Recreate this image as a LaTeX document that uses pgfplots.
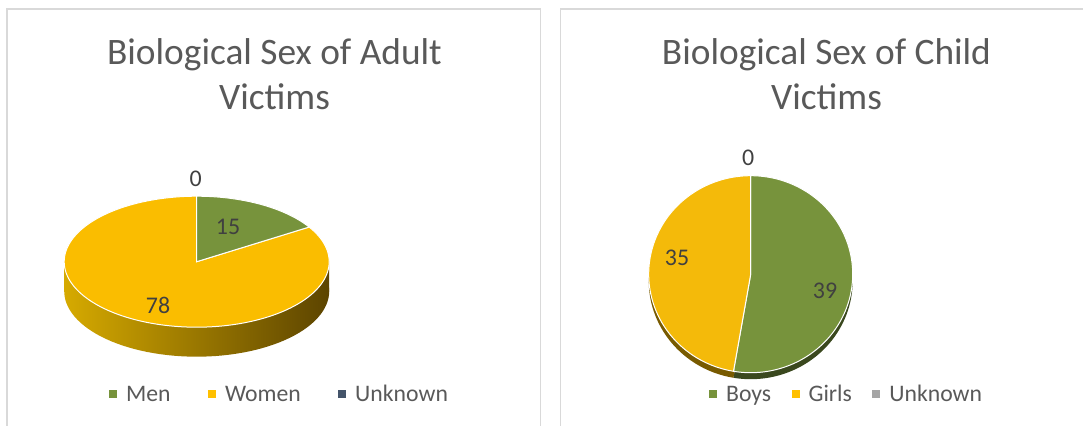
\documentclass[border=0pt]{standalone}
\usepackage{pgfplots}
\pgfplotsset{compat=1.18}
\usepackage{fontspec}
\setmainfont{Carlito}
\definecolor{cgreen}{RGB}{119,147,60}
\definecolor{cgold}{RGB}{250,189,0}
\definecolor{cgirl}{RGB}{244,186,10}
\definecolor{cnavy}{RGB}{68,84,106}
\definecolor{cgrey}{RGB}{165,165,165}
\definecolor{legendgold}{RGB}{255,192,0}
\definecolor{sideL}{RGB}{214,170,0}
\definecolor{sideM}{RGB}{150,116,0}
\definecolor{sideR}{RGB}{92,68,0}
\definecolor{dgreen}{RGB}{58,72,30}
\definecolor{dgold}{RGB}{120,90,0}
\definecolor{titlegrey}{RGB}{89,89,89}
\definecolor{labelgrey}{RGB}{64,64,64}
\definecolor{border}{RGB}{217,217,217}

% data
\def\menV{15}\def\womenV{78}\def\unkA{0}
\def\boysV{39}\def\girlsV{35}\def\unkC{0}
\pgfmathsetmacro\totA{\menV+\womenV+\unkA}
\pgfmathsetmacro\aMen{90-360*(\menV/\totA)}
\pgfmathsetmacro\aWomen{\aMen-360*(\womenV/\totA)}
\pgfmathsetmacro\totC{\boysV+\girlsV+\unkC}
\pgfmathsetmacro\aBoys{90-360*(\boysV/\totC)}
\pgfmathsetmacro\aGirls{\aBoys-360*(\girlsV/\totC)}

\pgfplotsset{
  base/.style={at={(0,0)}, anchor=south west, width=1083bp, height=426bp,
    scale only axis, xmin=0, xmax=1083, ymin=0, ymax=426, hide axis, clip=false,
    legend columns=3,
    legend image code/.code={\fill[##1] (0bp,-3.5bp) rectangle (7bp,3.5bp);},
    legend style={draw=none, fill=none, inner sep=0pt, outer sep=0pt, anchor=west,
      font=\fontsize{23.8}{28}\selectfont, text=titlegrey,
      cells={anchor=west},
      nodes={inner sep=0pt, text height=15bp, text depth=0bp},
      /tikz/every odd column/.append style={column sep=9.5bp}},
  },
}
\tikzset{
  ttl/.style={font=\fontsize{37.5}{45}\selectfont, text=titlegrey, inner sep=0pt, anchor=base},
  lbl/.style={font=\fontsize{24}{28}\selectfont, text=labelgrey, inner sep=0pt, anchor=center},
}

\begin{document}
\begin{tikzpicture}
% ---------- Left panel: adults ----------
\begin{axis}[base,
  legend style={at={(109.2/1083,32/426)},
    /tikz/every even column/.append style={column sep=37.5bp}}]
\draw[border, line width=1.5bp] (axis cs:7,0) -- (axis cs:7,417) -- (axis cs:540.5,417) -- (axis cs:540.5,0);
\node[ttl] at (axis cs:274.5,361) {Biological Sex of Adult};
\node[ttl] at (axis cs:274.5,316) {Victims};
% side of the 3D pie
\addplot[forget plot, draw=none, left color=sideL, middle color=sideM, right color=sideR,
  domain=0:360, samples=120, variable=\t]
  ({196.7+132.5*cos(\t)},{134.8+65.5*sin(\t)}) -- cycle;
\addplot[forget plot, draw=none, left color=sideL, middle color=sideM, right color=sideR]
  coordinates {(64.2,164.3) (329.2,164.3) (329.2,134.8) (64.2,134.8)} -- cycle;
% top slices
\addplot[forget plot, fill=cgold, draw=white, line width=1bp, domain=\aWomen:\aMen, samples=150, variable=\t]
  ({196.7+132.5*cos(\t)},{164.3+65.5*sin(\t)}) -- (axis cs:196.7,164.3) -- cycle;
\addplot[forget plot, fill=cgreen, draw=white, line width=1bp, domain=\aMen:90, samples=40, variable=\t]
  ({196.7+132.5*cos(\t)},{164.3+65.5*sin(\t)}) -- (axis cs:196.7,164.3) -- cycle;
\node[lbl] at (axis cs:195.7,247) {\unkA};
\node[lbl] at (axis cs:228,199) {\menV};
\node[lbl] at (axis cs:158,120.5) {\womenV};
\addlegendimage{cgreen}
\addlegendimage{legendgold}
\addlegendimage{cnavy}
\legend{Men,Women,Unknown}
\end{axis}
% ---------- Right panel: children ----------
\begin{axis}[base,
  legend style={at={(709.2/1083,32/426)},
    /tikz/every even column/.append style={column sep=20.5bp}}]
\draw[border, line width=1.5bp] (axis cs:560.5,0) -- (axis cs:560.5,417) -- (axis cs:1083,417);
\node[ttl] at (axis cs:826.5,361) {Biological Sex of Child};
\node[ttl] at (axis cs:826.5,316) {Victims};
% thin side
\addplot[forget plot, fill=dgreen, draw=none, domain=\aBoys:90, samples=150, variable=\t]
  ({750.7+102*cos(\t)},{145.3+98.5*sin(\t)}) -- (axis cs:750.7,145.3) -- cycle;
\addplot[forget plot, fill=dgold, draw=none, domain=\aGirls:\aBoys, samples=150, variable=\t]
  ({750.7+102*cos(\t)},{145.3+98.5*sin(\t)}) -- (axis cs:750.7,145.3) -- cycle;
% top slices
\addplot[forget plot, fill=cgreen, draw=white, line width=1bp, domain=\aBoys:90, samples=150, variable=\t]
  ({750.7+102*cos(\t)},{151.8+98.5*sin(\t)}) -- (axis cs:750.7,151.8) -- cycle;
\addplot[forget plot, fill=cgirl, draw=white, line width=1bp, domain=\aGirls:\aBoys, samples=150, variable=\t]
  ({750.7+102*cos(\t)},{151.8+98.5*sin(\t)}) -- (axis cs:750.7,151.8) -- cycle;
\node[lbl] at (axis cs:748.2,268.5) {\unkC};
\node[lbl] at (axis cs:677,168.5) {\girlsV};
\node[lbl] at (axis cs:825,135.5) {\boysV};
\addlegendimage{cgreen}
\addlegendimage{legendgold}
\addlegendimage{cgrey}
\legend{Boys,Girls,Unknown}
\end{axis}
\pgfresetboundingbox
\useasboundingbox (0,0) rectangle (1083bp,426bp);
\end{tikzpicture}
\end{document}
